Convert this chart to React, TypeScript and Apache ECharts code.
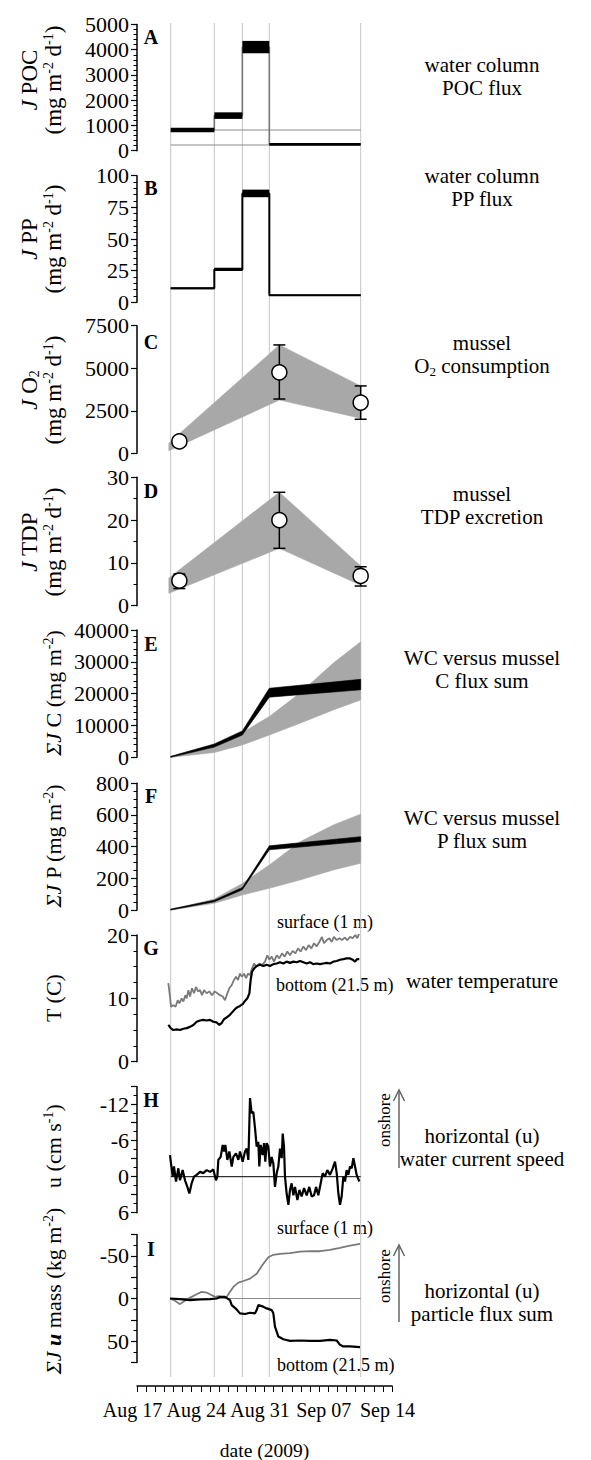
import React, { useEffect, useRef } from "react";
import * as echarts from "echarts";

const FONT = "'Liberation Serif', 'Times New Roman', serif";

// ---------- x axis: days since Aug 17, 2009 00:00 ----------
const xTickLabels = ["Aug 17", "Aug 24", "Aug 31", "Sep 07", "Sep 14"];
const X_MIN = 0;
const X_MAX = 28;
const sampleDays = [3.7, 8.49, 11.57, 14.53, 24.56];

// ---------- A: water column POC flux ----------
const pocLow = [730, 1260, 3860, 200];
const pocHigh = [910, 1520, 4350, 310];
const pocRefLines = [820, 225];

// ---------- B: water column PP flux ----------
const ppLow = [10.3, 24.7, 83, 5.0];
const ppHigh = [11.7, 27.3, 89, 6.2];

// ---------- C: mussel O2 consumption ----------
const musselDays = [4.65, 15.63, 24.56];
const o2Mean = [700, 4760, 2980];
const o2ErrLow = [600, 3190, 2000];
const o2ErrHigh = [800, 6370, 3960];
const bandDays = [3.5, 15.63, 24.56];
const o2BandLow = [150, 3130, 2060];
const o2BandHigh = [600, 6370, 3960];

// ---------- D: mussel TDP excretion ----------
const tdpMean = [5.85, 20.0, 6.95];
const tdpErrLow = [4.0, 13.4, 4.6];
const tdpErrHigh = [7.4, 26.5, 9.1];
const tdpBandLow = [2.9, 13.4, 4.8];
const tdpBandHigh = [6.5, 26.5, 9.3];

// ---------- E: C flux sums ----------
const wcCLow = [0, 3200, 7000, 18900, 21200];
const wcCHigh = [300, 4200, 8300, 21700, 24500];
const musSumDays = [3.7, 8.49, 11.57, 14.53, 17.9, 21.56, 24.56];
const musCLow = [0, 1500, 3900, 7000, 10700, 14900, 18000];
const musCHigh = [0, 3600, 7800, 12800, 20200, 29600, 36300];

// ---------- F: P flux sums ----------
const wcPLow = [0, 52, 128, 380, 432];
const wcPHigh = [6, 62, 142, 405, 463];
const musPLow = [0, 42, 95, 137, 190, 253, 295];
const musPHigh = [0, 70, 168, 284, 431, 537, 605];

// ---------- G: water temperature [day, degC] ----------
const tempSurface = [
  [3.44, 12.4], [3.62, 10.3], [3.73, 8.7], [3.99, 8.9], [4.25, 8.7], [4.47, 9.7], [4.65, 9.2], [4.9, 10.0],
  [5.09, 9.5], [5.31, 10.5], [5.45, 10.0], [5.64, 11.3], [5.82, 10.3], [6.04, 11.6], [6.26, 10.8], [6.48, 11.8],
  [6.7, 11.1], [6.92, 11.3], [7.14, 10.5], [7.36, 11.3], [7.65, 10.8], [7.94, 11.1], [8.24, 10.5], [8.53, 11.1],
  [8.82, 10.8], [9.11, 10.5], [9.41, 10.3], [9.66, 9.7], [9.85, 10.5], [10.14, 11.6], [10.4, 12.1], [10.65, 12.9],
  [10.87, 13.4], [11.09, 12.9], [11.31, 13.9], [11.53, 13.4], [11.75, 13.9], [11.97, 13.2], [12.19, 13.9], [12.41, 13.7],
  [12.63, 14.7], [12.85, 15.5], [13.14, 15.0], [13.43, 15.5], [13.73, 15.3], [14.06, 15.8], [14.31, 16.8], [14.53, 16.1],
  [14.79, 16.6], [15.04, 15.8], [15.34, 16.8], [15.63, 16.3], [15.92, 17.1], [16.22, 16.6], [16.51, 17.4], [16.8, 16.8],
  [17.09, 17.5], [17.39, 17.1], [17.68, 17.9], [17.97, 17.4], [18.27, 18.2], [18.56, 17.6], [18.85, 18.4], [19.14, 17.9],
  [19.44, 18.7], [19.73, 18.2], [20.02, 18.9], [20.31, 19.7], [20.53, 18.7], [20.83, 19.2], [21.12, 19.5], [21.38, 18.9],
  [21.63, 19.7], [21.93, 19.2], [22.22, 19.5], [22.51, 19.2], [22.8, 19.6], [23.1, 19.2], [23.39, 19.7], [23.68, 19.5],
  [23.98, 20.0], [24.19, 19.5], [24.41, 20.3],
];
const tempBottom = [
  [3.44, 5.8], [3.7, 5.3], [3.99, 5.0], [4.36, 5.1], [4.72, 5.0], [5.09, 5.2], [5.45, 5.3], [5.82, 5.5],
  [6.19, 5.8], [6.55, 6.3], [6.92, 6.5], [7.28, 6.6], [7.65, 6.5], [8.02, 6.6], [8.38, 6.3], [8.75, 6.2],
  [9.04, 5.8], [9.3, 6.1], [9.55, 6.7], [9.85, 7.0], [10.21, 7.4], [10.51, 7.9], [10.76, 8.3], [11.02, 8.6],
  [11.31, 8.8], [11.6, 9.1], [11.86, 9.6], [12.12, 10.0], [12.34, 10.8], [12.48, 12.9], [12.63, 14.2], [12.85, 14.7],
  [13.14, 15.1], [13.51, 15.3], [13.87, 15.1], [14.24, 15.3], [14.6, 15.1], [14.97, 15.4], [15.34, 15.5], [15.7, 15.7],
  [16.07, 15.5], [16.43, 15.8], [16.8, 15.6], [17.17, 15.8], [17.53, 15.7], [17.9, 15.9], [18.27, 15.7], [18.63, 15.5],
  [19.0, 15.7], [19.36, 15.4], [19.73, 15.5], [20.1, 15.4], [20.46, 15.5], [20.83, 15.6], [21.19, 15.5], [21.56, 15.8],
  [21.93, 15.9], [22.29, 16.1], [22.66, 16.2], [23.02, 16.3], [23.39, 16.3], [23.68, 16.1], [23.94, 15.8], [24.19, 16.2],
  [24.41, 16.2],
];

// ---------- H: horizontal current speed u [day, cm/s] ----------
const currentU = [
  [3.62, -3.6], [3.92, 0], [4.06, -1.7], [4.28, 0.8], [4.54, -1.4], [4.72, 0.6], [5.01, -1.1], [5.27, 0.6],
  [5.53, 1.7], [5.75, 2.8], [6.0, 1.1], [6.26, 0], [6.55, -0.3], [6.92, -0.8], [7.28, -0.6], [7.65, -1.1],
  [8.02, -0.8], [8.38, -1.2], [8.67, 0.6], [8.82, 0], [8.93, -2.8], [9.19, -3.3], [9.41, -5.3], [9.55, -4.2],
  [9.7, -5.3], [9.92, -2.8], [10.14, -4.2], [10.4, -1.7], [10.58, -3.3], [10.87, -3.9], [11.13, -2.8], [11.31, -4.2],
  [11.6, -2.5], [11.86, -4.2], [12.04, -4.7], [12.23, -2.8], [12.41, -13.1], [12.59, -10.6], [12.77, -10.8], [12.96, -8.1],
  [13.14, -5.0], [13.32, -5.8], [13.43, -1.7], [13.58, -5.3], [13.8, -3.6], [13.95, -5.6], [14.09, -2.5], [14.24, -5.6],
  [14.42, -5.0], [14.6, -1.7], [14.79, -3.3], [14.97, -2.2], [15.15, 1.7], [15.34, -0.6], [15.52, -1.7], [15.7, -4.7],
  [15.89, -3.1], [16.0, -7.2], [16.14, -5.0], [16.25, 0], [16.43, 2.8], [16.62, 4.7], [16.8, 2.2], [16.98, 1.1],
  [17.17, 3.1], [17.35, 1.7], [17.61, 3.9], [17.83, 2.2], [18.08, 3.3], [18.34, 1.9], [18.63, 3.1], [18.92, 1.7],
  [19.18, 3.3], [19.44, 3.1], [19.66, 1.7], [19.91, 3.1], [20.17, 1.1], [20.39, -0.6], [20.64, 0], [20.9, -1.1],
  [21.19, -0.3], [21.49, -1.4], [21.74, -2.5], [21.93, -0.6], [22.11, 2.8], [22.29, 4.7], [22.47, 3.3], [22.66, 0],
  [22.84, 0.8], [23.02, -1.1], [23.21, -0.3], [23.39, -1.7], [23.57, -1.4], [23.76, -3.1], [23.94, -1.7], [24.12, -0.3],
  [24.41, 0.8],
];

// ---------- I: cumulative particle flux [day, kg/m2] ----------
const fluxSurface = [
  [3.62, 0], [4.17, 2.7], [4.72, 6.6], [5.09, 3.9], [5.45, 1.2], [6.0, -1.9], [6.55, -5.0], [7.1, -7.8],
  [7.65, -7.0], [8.2, -3.9], [8.57, -1.9], [8.93, -2.7], [9.3, -1.9], [9.66, -1.2], [9.85, -1.9], [10.21, -7.8],
  [10.58, -13.6], [11.13, -18.6], [11.68, -20.5], [12.41, -23.3], [13.14, -29.1], [13.87, -40.7], [14.42, -48.4], [14.97, -51.2],
  [15.7, -52.3], [16.8, -53.1], [17.9, -55.0], [19.0, -55.4], [20.1, -55.4], [21.19, -57.0], [22.29, -59.3], [23.39, -62.0],
  [24.49, -64.0],
];
const fluxBottom = [
  [3.62, 0], [4.72, 0.8], [5.82, 1.9], [6.92, 1.2], [8.02, 0.8], [8.75, 0], [9.11, -1.9], [9.66, -1.9],
  [10.21, 1.9], [10.4, 7.8], [10.94, 12.8], [11.31, 17.4], [11.86, 18.2], [12.41, 16.7], [12.96, 17.4], [13.14, 13.6],
  [13.32, 7.8], [13.69, 8.9], [14.24, 11.6], [14.79, 13.6], [14.97, 17.4], [15.15, 32.9], [15.34, 38.8], [15.52, 44.6],
  [16.07, 47.7], [16.8, 49.6], [17.9, 49.2], [19.0, 49.6], [20.1, 49.6], [21.19, 48.4], [21.93, 49.2], [22.29, 54.3],
  [22.66, 56.2], [23.39, 56.2], [24.49, 57.0],
];

// ---------- layout ----------
const GRID_LEFT = 137;
const GRID_WIDTH = 255;
const panelTops = [24.5, 175.7, 325.7, 477.3, 630, 783.3, 935, 1086.7, 1234.5];
const panelHeights = [126.2, 126.6, 127.6, 128.4, 127.3, 126.7, 126.7, 126, 128];

const yCfg: any[] = [
  { min: 0, max: 5000, interval: 1000, minor: 5 },
  { min: 0, max: 100, interval: 25, minor: 5 },
  { min: 0, max: 7500, interval: 2500, minor: 0 },
  { min: 0, max: 30, interval: 10, minor: 2 },
  { min: 0, max: 40000, interval: 10000, minor: 5 },
  { min: 0, max: 800, interval: 200, minor: 4 },
  { min: 0, max: 20, interval: 10, minor: 4 },
  { min: -15, max: 6, interval: 3, minor: 2, inverse: true, every: 6 },
  { min: -75, max: 75, interval: 25, minor: 2, inverse: true, every: 50 },
];

function stepBars(lo: number[], hi: number[], idx: number) {
  return {
    type: "custom",
    xAxisIndex: idx,
    yAxisIndex: idx,
    z: 4,
    silent: true,
    data: lo.map((l, i) => [sampleDays[i], sampleDays[i + 1], l, hi[i]]),
    encode: { x: [0, 1], y: [2, 3] },
    renderItem: (params: any, api: any) => {
      const a = api.coord([api.value(0), api.value(3)]);
      const b = api.coord([api.value(1), api.value(2)]);
      return {
        type: "rect",
        shape: { x: a[0], y: a[1], width: b[0] - a[0], height: Math.max(b[1] - a[1], 1.5) },
        style: { fill: "#000" },
      };
    },
  };
}

function stepConnector(lo: number[], hi: number[], idx: number, color: string, width: number) {
  const mids = lo.map((l, i) => (l + hi[i]) / 2);
  const data = mids.map((m, i) => [sampleDays[i], m]);
  data.push([sampleDays[sampleDays.length - 1], mids[mids.length - 1]]);
  return {
    type: "line",
    xAxisIndex: idx,
    yAxisIndex: idx,
    step: "end",
    symbol: "none",
    silent: true,
    z: 3,
    data,
    lineStyle: { color, width },
  };
}

function band(xs: number[], lo: number[], hi: number[], color: string, idx: number, z: number) {
  return {
    type: "custom",
    xAxisIndex: idx,
    yAxisIndex: idx,
    z,
    silent: true,
    data: xs.map((x, i) => [x, lo[i], hi[i]]),
    encode: { x: 0, y: [1, 2] },
    renderItem: (params: any, api: any) => {
      if (params.dataIndexInside !== 0) return null;
      const n = params.dataInsideLength;
      const top: number[][] = [];
      const bot: number[][] = [];
      for (let j = 0; j < n; j++) {
        top.push(api.coord([api.value(0, j), api.value(2, j)]));
        bot.push(api.coord([api.value(0, j), api.value(1, j)]));
      }
      return {
        type: "polygon",
        shape: { points: top.concat(bot.reverse()) },
        style: { fill: color, stroke: color, lineWidth: 0.6 },
      };
    },
  };
}

function errorBars(xs: number[], lo: number[], hi: number[], idx: number) {
  return {
    type: "custom",
    xAxisIndex: idx,
    yAxisIndex: idx,
    z: 5,
    silent: true,
    data: xs.map((x, i) => [x, lo[i], hi[i]]),
    encode: { x: 0, y: [1, 2] },
    renderItem: (params: any, api: any) => {
      const pl = api.coord([api.value(0), api.value(1)]);
      const ph = api.coord([api.value(0), api.value(2)]);
      const w = 6;
      const st = { stroke: "#000", lineWidth: 1.5 };
      return {
        type: "group",
        children: [
          { type: "line", shape: { x1: pl[0], y1: pl[1], x2: ph[0], y2: ph[1] }, style: st },
          { type: "line", shape: { x1: pl[0] - w, y1: pl[1], x2: pl[0] + w, y2: pl[1] }, style: st },
          { type: "line", shape: { x1: ph[0] - w, y1: ph[1], x2: ph[0] + w, y2: ph[1] }, style: st },
        ],
      };
    },
  };
}

function circles(xs: number[], ys: number[], idx: number) {
  return {
    type: "scatter",
    xAxisIndex: idx,
    yAxisIndex: idx,
    z: 6,
    silent: true,
    symbol: "circle",
    symbolSize: 15,
    data: xs.map((x, i) => [x, ys[i]]),
    itemStyle: { color: "#fff", borderColor: "#000", borderWidth: 1.5, opacity: 1 },
  };
}

function line(data: number[][], idx: number, color: string, width: number, z = 3) {
  return {
    type: "line",
    xAxisIndex: idx,
    yAxisIndex: idx,
    data,
    symbol: "none",
    silent: true,
    z,
    lineStyle: { color, width },
  };
}

function makeRich(ts: number): any {
  return {
    i: { fontFamily: FONT, fontSize: ts, fontStyle: "italic", lineHeight: 24, fill: "#000" },
    bi: { fontFamily: FONT, fontSize: ts, fontStyle: "italic", fontWeight: "bold", lineHeight: 24, fill: "#000" },
    sup: { fontFamily: FONT, fontSize: 14, lineHeight: 14, verticalAlign: "top", fill: "#000" },
    sub: { fontFamily: FONT, fontSize: 14, lineHeight: 14, verticalAlign: "bottom", fill: "#000" },
    rsub: { fontFamily: FONT, fontSize: 13, lineHeight: 13, verticalAlign: "bottom", fill: "#000" },
  };
}

function axisTitle(text: string, x: number, y: number, ts: number) {
  return {
    type: "text",
    x,
    y,
    rotation: Math.PI / 2,
    silent: true,
    style: {
      text,
      rich: makeRich(ts),
      fontFamily: FONT,
      fontSize: ts,
      lineHeight: 24,
      fill: "#000",
      align: "center",
      verticalAlign: "middle",
    },
  };
}

function plainText(text: string, x: number, y: number, size: number, align = "center", extra: any = {}) {
  return {
    type: "text",
    x,
    y,
    silent: true,
    style: {
      text,
      rich: makeRich(size),
      fontFamily: FONT,
      fontSize: size,
      lineHeight: size + 2,
      fill: "#000",
      align,
      verticalAlign: "middle",
      ...extra,
    },
  };
}

function buildOption() {
  const grids: any[] = panelTops.map((t, i) => ({
    left: GRID_LEFT,
    width: GRID_WIDTH,
    top: t,
    height: panelHeights[i],
  }));
  grids.push({ left: GRID_LEFT, width: GRID_WIDTH, top: 23, height: 1354 });

  const xAxes: any[] = panelTops.map((_, i) => ({
    type: "value",
    gridIndex: i,
    min: X_MIN,
    max: X_MAX,
    show: false,
  }));
  xAxes.push({
    type: "value",
    gridIndex: 9,
    min: X_MIN,
    max: X_MAX,
    interval: 7,
    offset: 9,
    axisLine: { show: true, onZero: false, lineStyle: { color: "#000", width: 1.5 } },
    axisTick: { show: true, length: 6, lineStyle: { color: "#000", width: 1 } },
    minorTick: { show: true, splitNumber: 7, length: 6, lineStyle: { color: "#000", width: 1 } },
    splitLine: { show: false },
    minorSplitLine: { show: false },
    axisLabel: {
      formatter: (v: number) => xTickLabels[Math.round(v / 7)] || "",
      fontFamily: FONT,
      fontSize: 20,
      color: "#000",
      margin: 14,
      padding: [0, 9, 0, 0],
    },
  });

  const yAxes: any[] = yCfg.map((c, i) => ({
    type: "value",
    gridIndex: i,
    min: c.min,
    max: c.max,
    interval: c.interval,
    inverse: !!c.inverse,
    axisLine: { show: true, onZero: false, lineStyle: { color: "#000", width: 1.5 } },
    axisTick: { show: true, length: 6, lineStyle: { color: "#000", width: 1.2 } },
    minorTick: { show: c.minor > 0, splitNumber: c.minor || 5, length: 3.5, lineStyle: { color: "#000", width: 1 } },
    splitLine: { show: false },
    minorSplitLine: { show: false },
    axisLabel: {
      color: "#000",
      fontFamily: FONT,
      fontSize: 22,
      margin: 8,
      formatter: (v: number) => (c.every ? (v % c.every === 0 ? String(v) : "") : String(v)),
    },
  }));
  yAxes.push({ type: "value", gridIndex: 9, min: 0, max: 1, show: false });

  const series: any[] = [];

  // vertical sampling-date lines across all panels
  series.push({
    type: "custom",
    xAxisIndex: 9,
    yAxisIndex: 9,
    z: 0,
    silent: true,
    data: sampleDays.map((d) => [d, 0, 1]),
    encode: { x: 0, y: [1, 2] },
    renderItem: (params: any, api: any) => {
      const a = api.coord([api.value(0), api.value(1)]);
      const b = api.coord([api.value(0), api.value(2)]);
      return {
        type: "line",
        shape: { x1: a[0], y1: a[1], x2: b[0], y2: b[1] },
        style: { stroke: "#c6c6c6", lineWidth: 1 },
      };
    },
  });

  const first = sampleDays[0];
  const last = sampleDays[sampleDays.length - 1];

  // A
  pocRefLines.forEach((v) => series.push(line([[first, v], [last, v]], 0, "#8a8a8a", 1.2, 2)));
  series.push(stepConnector(pocLow, pocHigh, 0, "#777", 1.6));
  series.push(stepBars(pocLow, pocHigh, 0));

  // B
  series.push(stepConnector(ppLow, ppHigh, 1, "#000", 2));
  series.push(stepBars(ppLow, ppHigh, 1));

  // C
  series.push(band(bandDays, o2BandLow, o2BandHigh, "#a8a8a8", 2, 2));
  series.push(errorBars(musselDays, o2ErrLow, o2ErrHigh, 2));
  series.push(circles(musselDays, o2Mean, 2));

  // D
  series.push(band(bandDays, tdpBandLow, tdpBandHigh, "#a8a8a8", 3, 2));
  series.push(errorBars(musselDays, tdpErrLow, tdpErrHigh, 3));
  series.push(circles(musselDays, tdpMean, 3));

  // E
  series.push(band(musSumDays, musCLow, musCHigh, "#a8a8a8", 4, 2));
  series.push(band(sampleDays, wcCLow, wcCHigh, "#000", 4, 3));

  // F
  series.push(band(musSumDays, musPLow, musPHigh, "#a8a8a8", 5, 2));
  series.push(band(sampleDays, wcPLow, wcPHigh, "#000", 5, 3));

  // G
  series.push(line(tempSurface, 6, "#7a7a7a", 1.8));
  series.push(line(tempBottom, 6, "#000", 2.2));

  // H
  series.push(line([[first, 0], [last, 0]], 7, "#000", 1, 2));
  series.push(line(currentU, 7, "#000", 2.2));

  // I
  series.push(line([[first, 0], [last, 0]], 8, "#8a8a8a", 1.2, 2));
  series.push(line(fluxSurface, 8, "#7a7a7a", 1.8));
  series.push(line(fluxBottom, 8, "#000", 2.2));

  const letters = ["A", "B", "C", "D", "E", "F", "G", "H", "I"];
  const letterY = [37, 188, 342, 491, 644, 796, 948, 1100, 1249];

  const graphic: any[] = [];
  letters.forEach((l, i) =>
    graphic.push(plainText(l, 151, letterY[i], 20, "center", { fontWeight: "bold" }))
  );

  // y-axis titles
  graphic.push(axisTitle("{i|J} POC\n(mg m{sup|-2} d{sup|-1})", 41, 80, 23));
  graphic.push(axisTitle("{i|J} PP\n(mg m{sup|-2} d{sup|-1})", 41, 239, 23));
  graphic.push(axisTitle("{i|J} O{sub|2}\n(mg m{sup|-2} d{sup|-1})", 41, 390, 23));
  graphic.push(axisTitle("{i|J} TDP\n(mg m{sup|-2} d{sup|-1})", 41, 542, 23));
  graphic.push(axisTitle("{i|ΣJ} C (mg m{sup|-2})", 53.5, 693, 22));
  graphic.push(axisTitle("{i|ΣJ} P (mg m{sup|-2})", 53.5, 846, 22));
  graphic.push(axisTitle("T (C)", 53.5, 998, 22));
  graphic.push(axisTitle("u (cm s{sup|-1})", 53.5, 1146, 22));
  graphic.push(axisTitle("{i|ΣJ} {bi|u} mass (kg m{sup|-2})", 53.5, 1291, 22));

  // right-hand descriptions
  const rx = 482;
  graphic.push(plainText("water column\nPOC flux", rx, 76, 21));
  graphic.push(plainText("water column\nPP flux", rx, 187.5, 21));
  graphic.push(plainText("mussel\nO{rsub|2} consumption", rx, 354.5, 21));
  graphic.push(plainText("mussel\nTDP excretion", rx, 505, 21));
  graphic.push(plainText("WC versus mussel\nC flux sum", rx, 669, 21));
  graphic.push(plainText("WC versus mussel\nP flux sum", rx, 829, 21));
  graphic.push(plainText("water temperature", rx, 981, 21));
  graphic.push(plainText("horizontal (u)\nwater current speed", rx, 1147, 21));
  graphic.push(plainText("horizontal (u)\nparticle flux sum", rx, 1302.5, 21));

  // series labels
  graphic.push(plainText("surface (1 m)", 277, 921.5, 18, "left"));
  graphic.push(plainText("bottom (21.5 m)", 276, 985, 18, "left"));
  graphic.push(plainText("surface (1 m)", 277, 1228, 18, "left"));
  graphic.push(plainText("bottom (21.5 m)", 277, 1365, 18, "left"));

  // onshore arrows
  [
    [1120, 1168, 1090],
    [1276, 1322, 1245],
  ].forEach(([ty, y0, y1]) => {
    graphic.push({
      type: "text",
      x: 384,
      y: ty,
      rotation: Math.PI / 2,
      silent: true,
      style: { text: "onshore", fontFamily: FONT, fontSize: 17, fill: "#000", align: "center", verticalAlign: "middle" },
    });
    graphic.push({
      type: "line",
      silent: true,
      shape: { x1: 399, y1: y0, x2: 399, y2: y1 + 1 },
      style: { stroke: "#666", lineWidth: 1.5 },
    });
    graphic.push({
      type: "polyline",
      silent: true,
      shape: { points: [[393.5, y1 + 11], [399, y1], [404.5, y1 + 11]] },
      style: { stroke: "#666", lineWidth: 1.5, fill: null },
    });
  });

  graphic.push(plainText("date (2009)", 264.5, 1450, 19.5));

  return {
    animation: false,
    backgroundColor: "#fff",
    grid: grids,
    xAxis: xAxes,
    yAxis: yAxes,
    series,
    graphic,
  };
}

export default function App() {
  const ref = useRef<HTMLDivElement>(null);
  useEffect(() => {
    document.body.style.margin = "0";
    const chart = echarts.init(ref.current as HTMLDivElement, null, { renderer: "svg" });
    chart.setOption(buildOption() as any);
    return () => chart.dispose();
  }, []);
  return <div ref={ref} style={{ width: 591, height: 1460 }} />;
}
